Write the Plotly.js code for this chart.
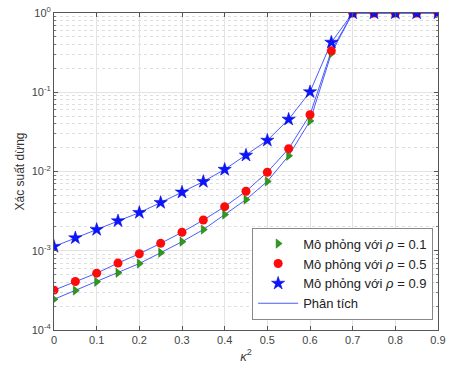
<!DOCTYPE html>
<html><head><meta charset="utf-8">
<script src="https://cdn.plot.ly/plotly-3.0.1.min.js"></script>
<style>body{margin:0;background:#fff}#c{width:453px;height:370px}</style>
</head><body><div id="c"></div>
<script>
const kappa2 = [0,0.05,0.1,0.15,0.2,0.25,0.3,0.35,0.4,0.45,0.5,0.55,0.6,0.65,0.7,0.75,0.8,0.85,0.9];
const rho01 = [2.44e-4,3.15e-4,4.06e-4,5.27e-4,6.9e-4,9.44e-4,1.3e-3,1.85e-3,2.86e-3,4.42e-3,7.5e-3,0.0158,0.0434,0.309,1,1,1,1,1];
const rho05 = [3.18e-4,4.09e-4,5.21e-4,6.99e-4,9.17e-4,1.24e-3,1.71e-3,2.44e-3,3.6e-3,5.63e-3,9.8e-3,0.0194,0.052,0.333,1,1,1,1,1];
const rho09 = [1.13e-3,1.45e-3,1.85e-3,2.38e-3,3.03e-3,4.05e-3,5.47e-3,7.46e-3,0.0106,0.016,0.0247,0.0455,0.101,0.426,1,1,1,1,1];
const seriesNames = ['Mô phỏng với <i>ρ</i> = 0.1','Mô phỏng với <i>ρ</i> = 0.5','Mô phỏng với <i>ρ</i> = 0.9'];
const analysisName = 'Phân tích';
const yTickVals = [1e-4,1e-3,1e-2,1e-1,1];
const yTickText = ['10<sup>-4</sup>','10<sup>-3</sup>','10<sup>-2</sup>','10<sup>-1</sup>','10<sup>0</sup>'];
const xTickVals = [0,0.1,0.2,0.3,0.4,0.5,0.6,0.7,0.8,0.9];

const lineColor = '#4a5cff';
const allY = [rho01, rho05, rho09];
const traces = [];
allY.forEach((ys,i)=>{
  traces.push({x:kappa2,y:ys,mode:'lines',line:{color:lineColor,width:1},
    name:analysisName,showlegend:i===0,legendrank:4,hoverinfo:'skip'});
});
traces.push({x:kappa2,y:rho01,mode:'markers',name:seriesNames[0],legendrank:1,
  marker:{symbol:'triangle-right',size:8,color:'#2e9a1a',line:{color:'#1f6e10',width:0.5}}});
traces.push({x:kappa2,y:rho05,mode:'markers',name:seriesNames[1],legendrank:2,
  marker:{symbol:'circle',size:9,color:'#ff0a0a',line:{width:0}}});
traces.push({x:kappa2,y:rho09,mode:'markers',name:seriesNames[2],legendrank:3,
  marker:{symbol:'star',size:10,color:'#0a14ff',line:{color:'#0000cc',width:0.5}}});

const font = {family:'Liberation Sans, Arial, sans-serif',color:'#333'};
const layout = {
  width:453,height:370,
  margin:{l:54,r:15,t:13,b:40},
  paper_bgcolor:'#fff',plot_bgcolor:'#fff',
  font:Object.assign({size:11},font),
  showlegend:true,
  legend:{x:0.516,y:0.323,xanchor:'left',yanchor:'top',bgcolor:'#fff',
    bordercolor:'#888',borderwidth:1,font:{size:13,color:'#222',family:font.family},
    tracegroupgap:0,itemwidth:40},
  xaxis:{range:[0,0.9],tickvals:xTickVals,ticktext:xTickVals.map(String),
    showgrid:true,gridcolor:'#e3e3e3',gridwidth:1,zeroline:false,
    showline:true,linecolor:'#555',linewidth:1,mirror:'ticks',
    ticks:'inside',ticklen:4,tickcolor:'#555',
    tickfont:{size:11,color:'#444'},
    title:{text:'<i>κ</i><sup>2</sup>',font:{size:13,color:'#444'},standoff:6}},
  yaxis:{type:'log',range:[-4,0],tickvals:yTickVals,ticktext:yTickText,
    showgrid:true,gridcolor:'#e3e3e3',gridwidth:1,zeroline:false,
    showline:true,linecolor:'#555',linewidth:1,mirror:'ticks',
    ticks:'inside',ticklen:4,tickcolor:'#555',
    tickfont:{size:11,color:'#444'},
    minor:{dtick:'D1',showgrid:true,gridcolor:'#dedede',griddash:'dot',gridwidth:1,ticks:'inside',ticklen:2,tickcolor:'#777'},
    title:{text:'Xác suất dừng',font:{size:12,color:'#333'},standoff:4}}
};
Plotly.newPlot('c',traces,layout,{displayModeBar:false,staticPlot:true});
</script></body></html>
